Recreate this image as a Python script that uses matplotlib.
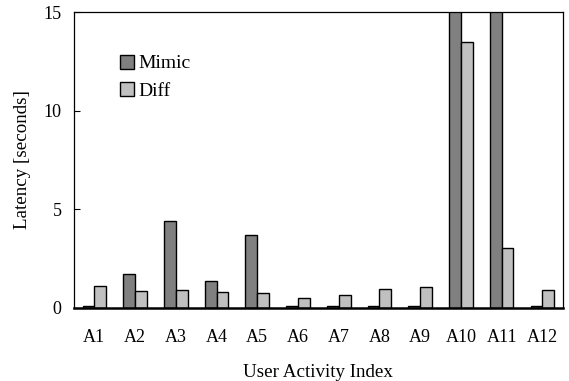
import numpy as np
import matplotlib
matplotlib.use("Agg")
from matplotlib import pyplot as plt

# Values (A10/A11 Mimic bars run off the top)
activities = ["A1", "A2", "A3", "A4", "A5", "A6", "A7", "A8", "A9", "A10", "A11", "A12"]
mimic = [0.1, 1.72, 4.4, 1.37, 3.68, 0.1, 0.1, 0.1, 0.1, 16.0, 16.0, 0.1]
diff = [1.1, 0.85, 0.93, 0.8, 0.74, 0.49, 0.64, 0.96, 1.06, 13.5, 3.02, 0.9]

plt.rcParams["font.family"] = ["Liberation Serif", "DejaVu Serif"]
fs = 13

fig = plt.figure(figsize=(5.69, 3.81), dpi=100)
ax = fig.add_axes([0.130, 0.192, 0.859, 0.776])

x = np.arange(len(activities))
w = 0.29
ax.bar(x - w / 2, mimic, w, color="#808080", edgecolor="black", linewidth=1, label="Mimic")
ax.bar(x + w / 2, diff, w, color="#c0c0c0", edgecolor="black", linewidth=1, label="Diff")

ax.set_xlim(-0.5, len(activities) - 0.5)
ax.set_ylim(0, 15)
ax.set_yticks([0, 5, 10, 15])
ax.set_xticks(x)
ax.set_xticklabels(activities)
ax.tick_params(labelsize=fs)
ax.tick_params(axis="y", direction="in", length=4, width=0.8, pad=9)
ax.tick_params(axis="x", length=0, pad=15)

ax.spines["bottom"].set_linewidth(1.8)
for s in ["left", "top", "right"]:
    ax.spines[s].set_linewidth(0.9)

ax.set_xlabel("User Activity Index", fontsize=13.7, labelpad=13)
ax.set_ylabel("Latency [seconds]", fontsize=13.7, labelpad=9)

ax.legend(loc="upper left", bbox_to_anchor=(0.078, 0.883), frameon=False,
          fontsize=14, handlelength=0.75, handleheight=0.75,
          handletextpad=0.2, labelspacing=0.5, borderaxespad=0)

fig.savefig("out.png", dpi=100)
